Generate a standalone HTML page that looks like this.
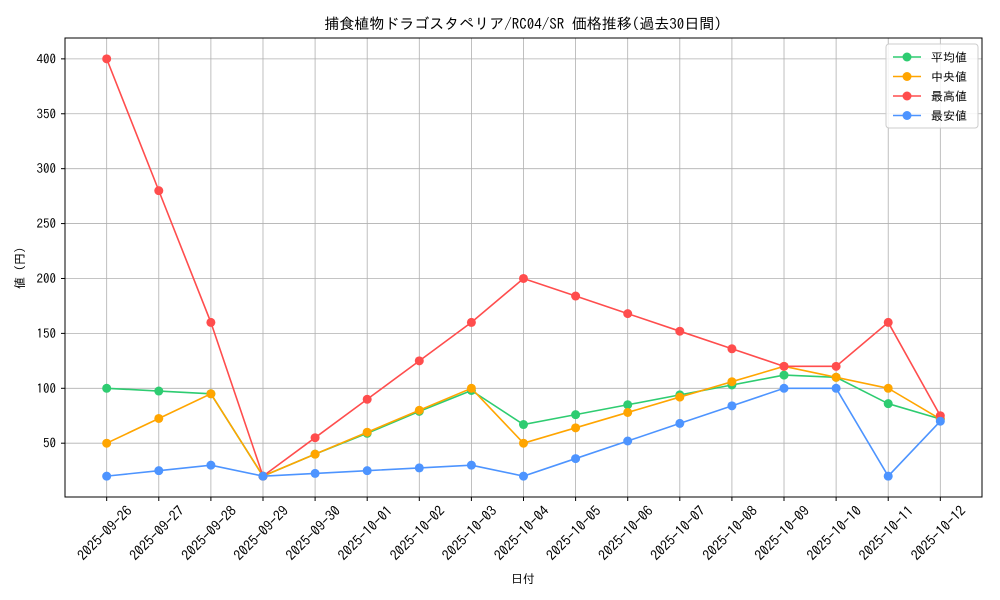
<!DOCTYPE html>
<html><head><meta charset="utf-8">
<style>
html,body{margin:0;padding:0;background:#fff;}
svg{display:block;font-family:"IPAGothic","Noto Sans CJK JP",sans-serif;}
</style></head>
<body>
<svg id="chart" width="1000" height="600" viewBox="0 0 1000 600" xmlns="http://www.w3.org/2000/svg">
<rect width="1000" height="600" fill="#fff"/>
<text x="523" y="29" text-anchor="middle" font-size="15" fill="#000">捕食植物ドラゴスタペリア/RC04/SR 価格推移(過去30日間)</text>
<g id="grid"></g>
<g id="series"></g>
<rect x="65" y="38" width="917" height="459" fill="none" stroke="#000" stroke-width="1"/>
<g id="ticks"></g>
<text x="523" y="583" text-anchor="middle" font-size="12">日付</text>
<text transform="translate(24,268) rotate(-90)" text-anchor="middle" font-size="12">値 (円)</text>
<g id="legend"></g>
</svg>
<script>
const categories=["2025-09-26","2025-09-27","2025-09-28","2025-09-29","2025-09-30","2025-10-01","2025-10-02","2025-10-03","2025-10-04","2025-10-05","2025-10-06","2025-10-07","2025-10-08","2025-10-09","2025-10-10","2025-10-11","2025-10-12"];
const avgValues=[100,97.5,95,20,40,59,79,98,67,76,85,94,103,112,110,86,72];
const medianValues=[50,72.5,95,20,40,60,80,100,50,64,78,92,106,120,110,100,72];
const maxValues=[400,280,160,20,55,90,125,160,200,184,168,152,136,120,120,160,75];
const minValues=[20,25,30,20,22.5,25,27.5,30,20,36,52,68,84,100,100,20,70];
const yTicks=[50,100,150,200,250,300,350,400];
const seriesNames=["平均値"," 中央値","最高値","最安値"];
const NS="http://www.w3.org/2000/svg";
const L=65,R=982,T=38,B=497;
const n=categories.length;
const xmin=-0.8,xmax=n-1+0.8;
const allV=avgValues.concat(medianValues,maxValues,minValues);
const dmin=Math.min(...allV),dmax=Math.max(...allV),pad=(dmax-dmin)*0.05;
const ymin=dmin-pad,ymax=dmax+pad;
const X=i=>L+(i-xmin)/(xmax-xmin)*(R-L);
const Y=v=>B-(v-ymin)/(ymax-ymin)*(B-T);
function mk(tag,attrs,parent){const e=document.createElementNS(NS,tag);for(const k in attrs)e.setAttribute(k,attrs[k]);parent.appendChild(e);return e;}
const grid=document.getElementById('grid'),ticks=document.getElementById('ticks');
categories.forEach((c,i)=>{
  const x=X(i);
  const g=mk('line',{x1:x,x2:x,y1:T,y2:B,stroke:'#b0b0b0','stroke-width':0.8},grid);
  
  
  const t=mk('line',{x1:x,x2:x,y1:B,y2:B+4,stroke:'#000'},ticks);
  
  
  const lb=mk('text',{transform:`translate(${x-2},${B+36}) rotate(-45)`,'text-anchor':'middle','font-size':14,'dominant-baseline':'central'},ticks);
  lb.textContent=c;
  
  
});
yTicks.forEach(v=>{
  const y=Y(v);
  const g=mk('line',{x1:L,x2:R,y1:y,y2:y,stroke:'#b0b0b0','stroke-width':0.8},grid);
  
  
  const t=mk('line',{x1:L-4,x2:L,y1:y,y2:y,stroke:'#000'},ticks);
  
  
  const lb=mk('text',{x:L-9,y:y+4.5,'text-anchor':'end','font-size':13},ticks);
  lb.textContent=v;
  
  
});
const series=[[avgValues,'#2ecc71','average'],[medianValues,'#ffa500','median'],[maxValues,'#ff4d4d','max'],[minValues,'#4d94ff','min']];
const sg=document.getElementById('series');
series.forEach(([vals,col,nm])=>{
  const pl=mk('polyline',{points:vals.map((v,i)=>X(i)+','+Y(v)).join(' '),fill:'none',stroke:col,'stroke-width':1.6},sg);
  
  
  vals.forEach((v,i)=>{
    const c=mk('circle',{cx:X(i),cy:Y(v),r:4.5,fill:col},sg);
    
    
  });
});
const lg=document.getElementById('legend');
const box=mk('rect',{x:886,y:44,width:92,height:84,rx:3,fill:'#fff','fill-opacity':0.85,stroke:'#ccc'},lg);


series.forEach(([vals,col,nm],k)=>{
  const y=57+k*19.5;
  const ln=mk('line',{x1:893,x2:921,y1:y,y2:y,stroke:col,'stroke-width':1.6},lg);
  
  
  const c=mk('circle',{cx:907,cy:y,r:4.5,fill:col},lg);
  
  
  const t=mk('text',{x:931,y:y+4.5,'font-size':12,'xml:space':'preserve'},lg);
  t.textContent=seriesNames[k];
  
  
});
</script>
</body></html>
